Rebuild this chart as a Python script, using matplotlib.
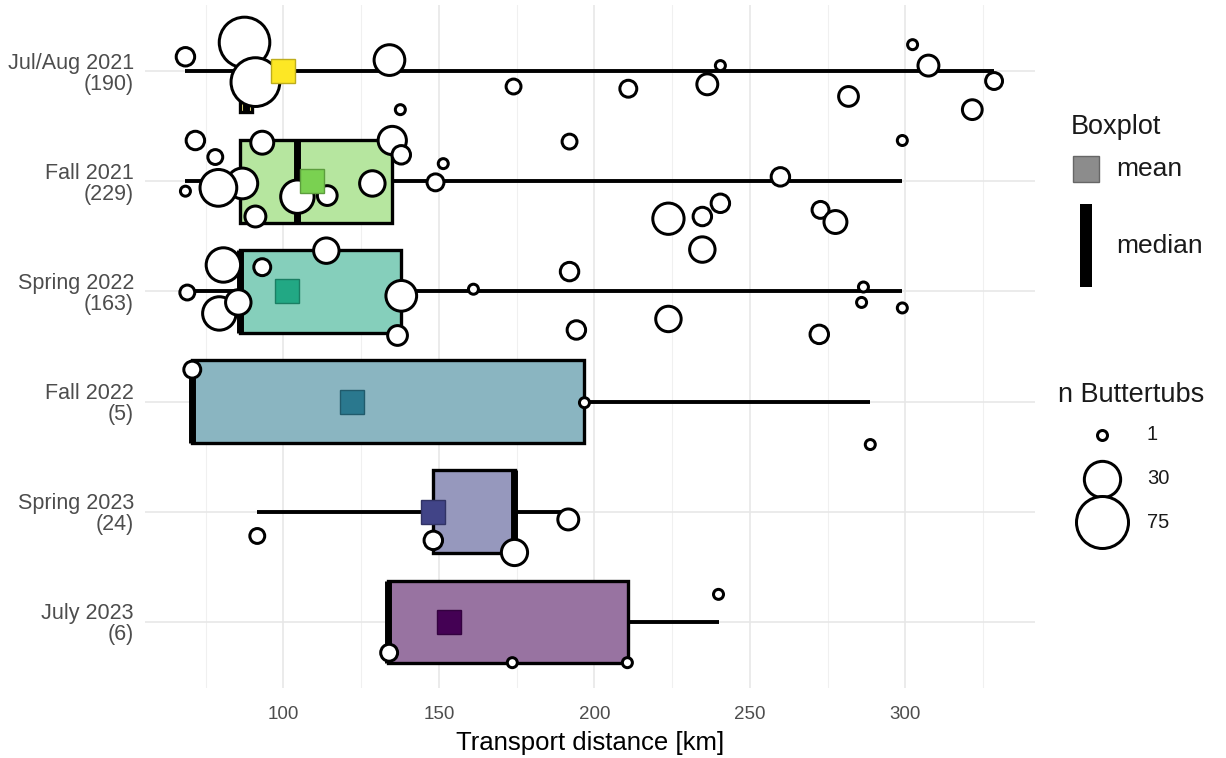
import numpy as np
import matplotlib.pyplot as plt
from matplotlib.patches import Rectangle

plt.rcParams['font.family'] = ['Liberation Sans', 'DejaVu Sans']

# seasons from top to bottom, with total number of buttertubs
seasons = ['Jul/Aug 2021', 'Fall 2021', 'Spring 2022', 'Fall 2022', 'Spring 2023', 'July 2023']
tubs_total = [190, 229, 163, 5, 24, 6]
season_colors = ['#FDE725', '#7AD151', '#22A884', '#2A788E', '#414487', '#440154']

# boxplot summaries [km]
q1 = [86.0, 86.2, 86.0, 70.7, 148.2, 133.5]
median = [88.0, 104.5, 86.0, 70.7, 174.0, 133.5]
q3 = [90.0, 135.0, 137.9, 196.8, 174.6, 210.9]
whisk_lo = [68.5, 68.5, 69.0, 70.7, 91.6, 133.5]
whisk_hi = [328.5, 299.0, 299.0, 288.7, 191.6, 240.0]
mean_km = [100.0, 109.3, 101.3, 121.9, 148.2, 153.1]

# sampling locations: distance [km], vertical jitter, number of buttertubs
julaug21_km = [68.5, 87.5, 91.0, 134.1, 137.6, 174.0, 210.9, 236.3, 240.5, 281.7, 302.3, 307.4, 321.5, 328.5]
julaug21_jit = [-0.13, -0.26, 0.10, -0.10, 0.35, 0.14, 0.16, 0.12, -0.05, 0.23, -0.24, -0.05, 0.35, 0.09]
julaug21_n = [4, 70, 64, 19, 1, 2, 3, 6, 1, 5, 1, 6, 5, 3]

fall21_km = [71.7, 78.1, 68.5, 86.8, 79.1, 91.0, 93.2, 104.5, 114.1, 128.6, 135.0, 137.9, 151.4,
             148.9, 192.0, 259.8, 223.8, 234.7, 240.5, 272.7, 277.5, 299.0]
fall21_jit = [-0.37, -0.22, 0.09, 0.02, 0.06, 0.32, -0.35, 0.14, 0.13, 0.02, -0.37, -0.24, -0.16,
              0.01, -0.36, -0.04, 0.34, 0.32, 0.20, 0.26, 0.37, -0.37]
fall21_n = [4, 2, 1, 19, 31, 6, 8, 24, 5, 11, 15, 4, 1, 3, 2, 4, 20, 4, 4, 3, 8, 1]

spring22_km = [69.1, 80.7, 79.4, 85.5, 93.2, 113.8, 137.9, 136.7, 161.1, 192.0, 194.2, 223.8, 234.7,
               286.5, 285.9, 272.3, 299.0]
spring22_jit = [0.01, -0.24, 0.20, 0.10, -0.22, -0.37, 0.04, 0.40, -0.02, -0.18, 0.35, 0.25, -0.38,
                -0.04, 0.10, 0.39, 0.15]
spring22_n = [2, 26, 24, 11, 3, 11, 19, 5, 1, 4, 4, 11, 11, 1, 1, 4, 1]

fall22_km = [70.7, 196.8, 288.7]
fall22_jit = [-0.29, 0.01, 0.39]
fall22_n = [3, 1, 1]

spring23_km = [91.6, 148.2, 174.3, 191.6]
spring23_jit = [0.22, 0.26, 0.37, 0.07]
spring23_n = [2, 4, 12, 6]

july23_km = [134.0, 173.6, 210.6, 239.9]
july23_jit = [0.28, 0.37, 0.37, -0.25]
july23_n = [3, 1, 1, 1]

points = [(julaug21_km, julaug21_jit, julaug21_n),
          (fall21_km, fall21_jit, fall21_n),
          (spring22_km, spring22_jit, spring22_n),
          (fall22_km, fall22_jit, fall22_n),
          (spring23_km, spring23_jit, spring23_n),
          (july23_km, july23_jit, july23_n)]

legend_n = [1, 30, 75]

PX = 0.72          # points per pixel at dpi 100
EDGE = 3.0         # circle outline [px]


def circle_px(n):
    # outer circle diameter in pixels, area scale between 1 and 75 tubs
    return 13 + 42 * np.sqrt((np.asarray(n, float) - 1) / 74)


def circle_s(n):
    return ((circle_px(n) - EDGE) * PX) ** 2


def blend(c, a=0.55):
    rgb = np.array(plt.matplotlib.colors.to_rgb(c))
    return tuple(1 - a * (1 - rgb))


fig = plt.figure(figsize=(12.26, 7.58), dpi=100)
ax = fig.add_axes([145 / 1226, 1 - 688 / 758, 889.5 / 1226, 683 / 758])

ax.set_xlim(55.5, 341.5)
ax.set_ylim(5.6, -0.6)

# grid
for x in range(100, 301, 50):
    ax.axvline(x, color='#e6e6e6', lw=1.1, zorder=0)
for x in range(75, 326, 50):
    ax.axvline(x, color='#f0f0f0', lw=0.8, zorder=0)
for i in range(len(seasons)):
    ax.axhline(i, color='#e6e6e6', lw=1.1, zorder=0)

hw = 0.375
for i in range(len(seasons)):
    ax.plot([whisk_lo[i], q1[i]], [i, i], color='black', lw=2.8, solid_capstyle='butt', zorder=2)
    ax.plot([q3[i], whisk_hi[i]], [i, i], color='black', lw=2.8, solid_capstyle='butt', zorder=2)
    ax.add_patch(Rectangle((q1[i], i - hw), q3[i] - q1[i], 2 * hw,
                           facecolor=blend(season_colors[i]), edgecolor='black',
                           lw=2.4, zorder=3, joinstyle='miter'))
    ax.plot([median[i], median[i]], [i - hw, i + hw], color='black', lw=5,
            solid_capstyle='butt', zorder=4)

    km, jit, n = points[i]
    ax.scatter(km, np.array(jit) + i, s=circle_s(n), facecolor='white',
               edgecolor='black', linewidths=EDGE * PX, zorder=5)

    ax.plot(mean_km[i], i, marker='s', ms=17.5, color=season_colors[i],
            mec=np.array(plt.matplotlib.colors.to_rgb(season_colors[i])) * 0.75,
            mew=1.0, zorder=6)

ax.set_yticks(range(len(seasons)))
ax.set_yticklabels([f'{s}\n({c})' for s, c in zip(seasons, tubs_total)],
                   fontsize=15.5, color='#4d4d4d', linespacing=1.0)
ax.set_xticks(range(100, 301, 50))
ax.tick_params(axis='x', length=0, pad=13, labelsize=13.5, labelcolor='#4d4d4d')
ax.tick_params(axis='y', length=0, pad=8)
ax.set_xlabel('Transport distance [km]', fontsize=18.5, labelpad=6)
for sp in ax.spines.values():
    sp.set_visible(False)

# legend drawn in pixel coordinates on an overlay
lax = fig.add_axes([0, 0, 1, 1])
lax.set_xlim(0, 1226)
lax.set_ylim(758, 0)
lax.axis('off')

lax.text(1071, 127, 'Boxplot', fontsize=19.5, va='center', ha='left', color='#1a1a1a')
lax.add_patch(Rectangle((1073, 156), 26, 26, facecolor='#8c8c8c', edgecolor='#666666', lw=1))
lax.text(1116, 169, 'mean', fontsize=19, va='center', ha='left', color='#1a1a1a')
lax.add_patch(Rectangle((1080, 204), 12, 83, facecolor='black', edgecolor='none'))
lax.text(1116, 246, 'median', fontsize=19, va='center', ha='left', color='#1a1a1a')

lax.text(1058, 395, 'n Buttertubs', fontsize=19.5, va='center', ha='left', color='#1a1a1a')
for n, y in zip(legend_n, [435, 479, 522]):
    lax.scatter([1102], [y], s=circle_s(n), facecolor='white', edgecolor='black',
                linewidths=EDGE * PX)
    lax.text(1147, y, str(n), fontsize=14.5, va='center', ha='left', color='#1a1a1a')

fig.savefig('out.png', dpi=100)
